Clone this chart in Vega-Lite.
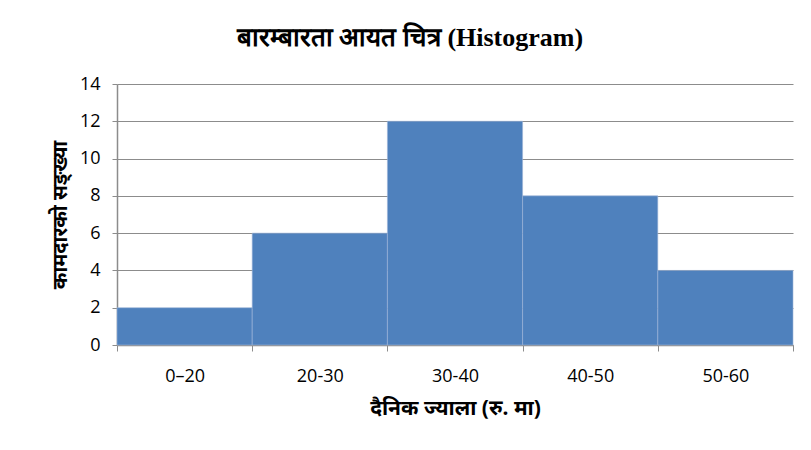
{
  "$schema": "https://vega.github.io/schema/vega-lite/v6.json",
  "width": 676,
  "height": 261,
  "autosize": {"type": "none"},
  "padding": {"left": 117, "top": 84, "right": 18, "bottom": 105},
  "background": "white",
  "title": {
    "text": "बारम्बारता आयत चित्र (Histogram)",
    "font": "Liberation Serif",
    "fontSize": 26,
    "fontWeight": "bold",
    "color": "#000000",
    "anchor": "middle",
    "dx": -45,
    "offset": 24
  },
  "data": {
    "values": [
      {"range": "0–20", "count": 2},
      {"range": "20-30", "count": 6},
      {"range": "30-40", "count": 12},
      {"range": "40-50", "count": 8},
      {"range": "50-60", "count": 4}
    ]
  },
  "mark": {"type": "bar", "color": "#4F81BD", "stroke": "#9db6d8", "strokeWidth": 0.6},
  "encoding": {
    "x": {
      "field": "range",
      "type": "nominal",
      "sort": null,
      "scale": {"paddingInner": 0, "paddingOuter": 0},
      "axis": {
        "title": "दैनिक ज्याला (रु. मा)",
        "titleFontSize": 21,
        "labelAngle": 0,
        "tickBand": "extent",
        "tickSize": 6,
        "labelPadding": 16,
        "titlePadding": 12,
        "grid": false
      }
    },
    "y": {
      "field": "count",
      "type": "quantitative",
      "scale": {"domain": [0, 14]},
      "axis": {
        "title": "कामदारको सङ्ख्या",
        "titleFontSize": 20,
        "values": [0, 2, 4, 6, 8, 10, 12, 14],
        "tickSize": 5,
        "labelPadding": 12,
        "titlePadding": 9,
        "grid": true
      }
    }
  },
  "config": {
    "view": {"stroke": null},
    "axis": {
      "labelFont": "Open Sans",
      "labelFontSize": 18,
      "labelColor": "#000000",
      "titleFont": "Noto Sans",
      "titleFontWeight": "bold",
      "titleColor": "#000000",
      "domainColor": "#8c8c8c",
      "tickColor": "#8c8c8c",
      "gridColor": "#8c8c8c",
      "gridWidth": 1,
      "domainWidth": 1.5
    }
  }
}
